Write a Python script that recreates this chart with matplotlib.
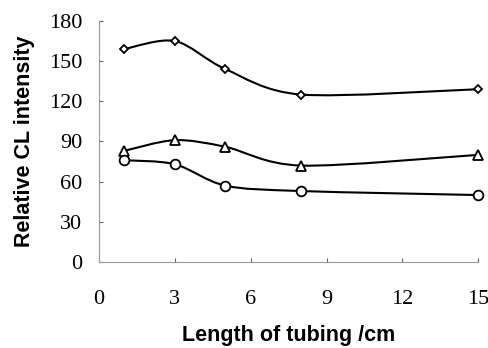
import numpy as np
import matplotlib
matplotlib.use("Agg")
import matplotlib.pyplot as plt
from matplotlib.path import Path
from matplotlib.patches import PathPatch

lengths = [1, 3, 5, 8, 15]
series_diamond = [159, 165, 144, 125, 129]
series_triangle = [83, 91, 86, 72, 80]
series_circle = [76, 73, 57, 53, 50]
xticks = [0, 3, 6, 9, 12, 15]
yticks = [0, 30, 60, 90, 120, 150, 180]


def smooth_path(xs, ys):
    # Catmull-Rom style Bezier through the data points
    xs = np.asarray(xs, float)
    ys = np.asarray(ys, float)
    n = len(xs)
    verts = [(xs[0], ys[0])]
    codes = [Path.MOVETO]
    t = 0.45
    for i in range(n - 1):
        p0 = np.array([xs[max(i - 1, 0)], ys[max(i - 1, 0)]])
        p1 = np.array([xs[i], ys[i]])
        p2 = np.array([xs[i + 1], ys[i + 1]])
        p3 = np.array([xs[min(i + 2, n - 1)], ys[min(i + 2, n - 1)]])
        c1 = p1 + (p2 - p0) * t / 3
        c2 = p2 - (p3 - p1) * t / 3
        verts += [tuple(c1), tuple(c2), tuple(p2)]
        codes += [Path.CURVE4] * 3
    return Path(verts, codes)


fig = plt.figure(figsize=(4.88, 3.48), dpi=100)
ax = fig.add_axes([0.203, 0.247, 0.777, 0.693])

for ys, m, ms in [(series_diamond, "D", 4.5), (series_triangle, "^", 6.5),
                  (series_circle, "o", 7)]:
    ax.add_patch(PathPatch(smooth_path(lengths, ys), fill=False, lw=1.5,
                           ec="black", clip_on=False))
    ax.plot(lengths, ys, ls="none", marker=m, ms=ms,
            mfc="white", mec="black", mew=1.3, clip_on=False, zorder=3)

ax.set_xlim(0, 15)
ax.set_ylim(0, 180)
ax.set_xticks(xticks)
ax.set_yticks(yticks)
for s in ["top", "right"]:
    ax.spines[s].set_visible(False)
for s in ["left", "bottom"]:
    ax.spines[s].set_color("#999999")
    ax.spines[s].set_linestyle((0, (3, 1)))
    ax.spines[s].set_linewidth(0.8)

ax.tick_params(axis="both", direction="in", length=3, width=0.8, color="#666666",
               labelsize=16)
ax.tick_params(axis="x", pad=20)
ax.tick_params(axis="y", pad=12)
for lab in ax.get_xticklabels() + ax.get_yticklabels():
    lab.set_fontfamily("Liberation Serif")

ax.set_xlabel("Length of tubing /cm", fontsize=15.5, fontweight="bold",
              fontfamily="Liberation Sans", labelpad=12)
ax.set_ylabel("Relative CL intensity", fontsize=15.5, fontweight="bold",
              fontfamily="Liberation Sans", labelpad=10)

fig.savefig("out.png", dpi=100)
